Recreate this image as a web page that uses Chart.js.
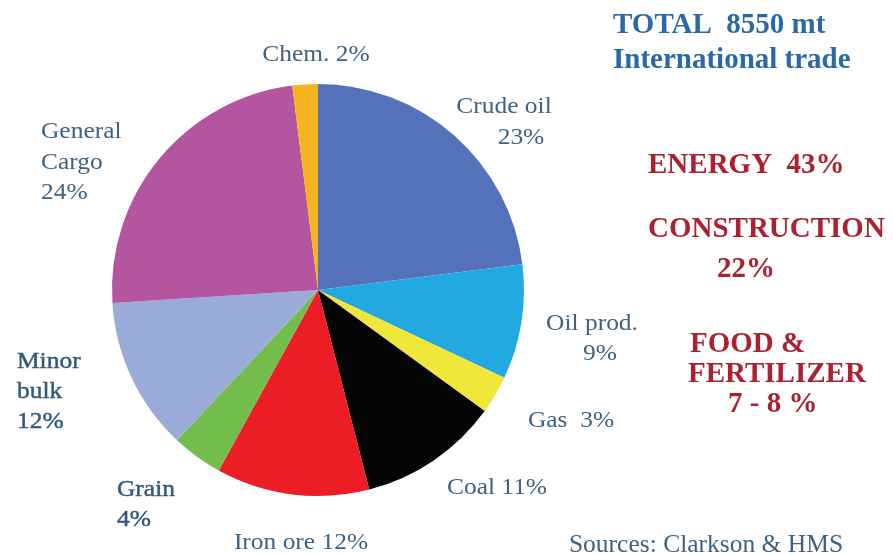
<!DOCTYPE html>
<html>
<head>
<meta charset="utf-8">
<script src="https://cdn.jsdelivr.net/npm/chart.js@4/dist/chart.umd.min.js"></script>
<style>
  html, body { margin: 0; padding: 0; background: #ffffff; }
  #wrap { width: 893px; height: 555px; position: relative; }
</style>
</head>
<body>
<div id="wrap"><canvas id="c" width="893" height="555"></canvas></div>
<script>
// Seaborne trade by commodity, share of total (%), clockwise from 12 o'clock
const categories = ['Crude oil', 'Oil prod.', 'Gas', 'Coal', 'Iron ore', 'Grain', 'Minor bulk', 'General Cargo', 'Chem.'];
const shares = [23, 9, 3, 11, 12, 4, 12, 24, 2];
const sliceColors = ['#5571BA', '#23A9E1', '#F1E63A', '#050505', '#ED1D25', '#72BD4C', '#9AAAD9', '#B3559F', '#F5B320'];

// Slice captions: lines of text, anchor points (text middle), alignment, weight
const sliceLabels = [
  { lines: ['Crude oil', '23%'], x: [504, 521], y: [107, 138], align: 'center', bold: false },
  { lines: ['Oil prod.', '9%'], x: [592, 600], y: [324, 354], align: 'center', bold: false },
  { lines: ['Gas  3%'], x: [571], y: [421], align: 'center', bold: false },
  { lines: ['Coal 11%'], x: [497], y: [488], align: 'center', bold: false },
  { lines: ['Iron ore 12%'], x: [301], y: [543], align: 'center', bold: false },
  { lines: ['Grain', '4%'], x: [117, 117], y: [490, 520], align: 'left', bold: true },
  { lines: ['Minor', 'bulk', '12%'], x: [17, 17, 17], y: [362, 392, 422], align: 'left', bold: true },
  { lines: ['General', 'Cargo', '24%'], x: [41, 41, 41], y: [132, 163, 193], align: 'left', bold: false },
  { lines: ['Chem. 2%'], x: [316], y: [55], align: 'center', bold: false }
];

// Side notes (left edge, baseline)
const headerLines = ['TOTAL  8550 mt', 'International trade'];
const groupLines = ['ENERGY  43%', 'CONSTRUCTION', '22%', 'FOOD &', 'FERTILIZER', '7 - 8 %'];
const sourceNote = 'Sources: Clarkson & HMS';

const serif = '"Liberation Serif", "DejaVu Serif", serif';

function drawScaled(ctx, text, x, y, sx) {
  ctx.save();
  ctx.translate(x, y);
  ctx.scale(sx, 1);
  ctx.fillText(text, 0, 0);
  ctx.restore();
}

const textPlugin = {
  id: 'textNotes',
  afterDraw(chart) {
    const ctx = chart.ctx;
    ctx.save();

    // slice captions
    ctx.textBaseline = 'middle';
    sliceLabels.forEach(l => {
      ctx.fillStyle = l.bold ? '#32597A' : '#3E6282';
      ctx.strokeStyle = ctx.fillStyle;
      ctx.lineWidth = 0.45;
      ctx.font = '24px ' + serif;
      ctx.textAlign = l.align;
      l.lines.forEach((t, i) => {
        ctx.save();
        ctx.translate(l.x[i], l.y[i]);
        ctx.scale(1.06, 1);
        ctx.fillText(t, 0, 0);
        if (l.bold) ctx.strokeText(t, 0, 0);
        ctx.restore();
      });
    });

    ctx.textBaseline = 'alphabetic';
    ctx.textAlign = 'left';
    ctx.font = 'bold 29px ' + serif;

    // header (blue)
    ctx.fillStyle = '#2A69A7';
    drawScaled(ctx, headerLines[0], 613, 33, 1.0);
    drawScaled(ctx, headerLines[1], 613, 68, 1.0);

    // commodity groups (red)
    ctx.fillStyle = '#AC2130';
    const groups = [
      { t: groupLines[0], x: 648, y: 173 },
      { t: groupLines[1], x: 648, y: 237 },
      { t: groupLines[2], x: 717, y: 277 },
      { t: groupLines[3], x: 690, y: 352 },
      { t: groupLines[4], x: 688, y: 382 },
      { t: groupLines[5], x: 728, y: 412 }
    ];
    groups.forEach(g => drawScaled(ctx, g.t, g.x, g.y, 1.0));

    // source note
    ctx.fillStyle = '#3E6282';
    ctx.font = '25px ' + serif;
    ctx.textAlign = 'center';
    ctx.textBaseline = 'middle';
    drawScaled(ctx, sourceNote, 706, 545, 1.02);
    ctx.restore();
  }
};

new Chart(document.getElementById('c'), {
  type: 'pie',
  data: {
    labels: categories,
    datasets: [{
      data: shares,
      backgroundColor: sliceColors,
      borderWidth: 0
    }]
  },
  options: {
    responsive: false,
    animation: false,
    layout: { padding: { left: 112, right: 369, top: 84, bottom: 59 } },
    plugins: {
      legend: { display: false },
      tooltip: { enabled: false }
    }
  },
  plugins: [textPlugin]
});
</script>
</body>
</html>
